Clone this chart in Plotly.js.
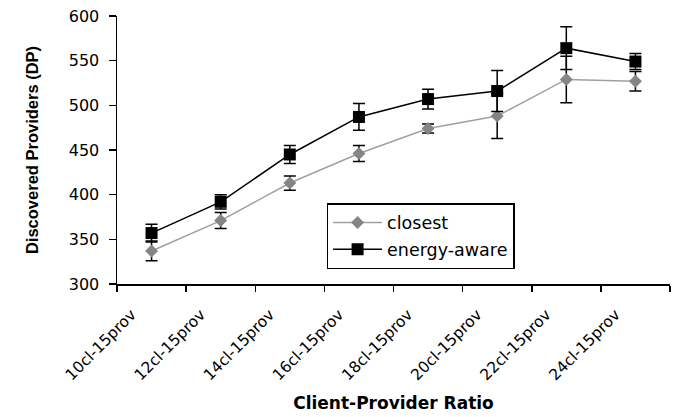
<!DOCTYPE html>
<html>
<head>
<meta charset="utf-8">
<script src="https://cdn.plot.ly/plotly-3.0.1.min.js"></script>
<style>html,body{margin:0;padding:0;background:#fff;}#chart{width:678px;height:417px;}</style>
</head>
<body>
<div id="chart"></div>
<script>
var categories = ["10cl-15prov","12cl-15prov","14cl-15prov","16cl-15prov","18cl-15prov","20cl-15prov","22cl-15prov","24cl-15prov"];
var closestValues = [337, 371, 413, 446, 474, 488, 529, 527];
var closestErrors = [11, 9, 8, 9, 5, 25, 26, 11];
var energyValues = [357, 392, 445, 487, 507, 516, 564, 549];
var energyErrors = [10, 8, 10, 15, 11, 23, 24, 9];
var seriesNames = ["closest", "energy-aware"];

var FONT = "DejaVu Sans, Arial, sans-serif";
var FONT2 = "Liberation Sans, Arial, sans-serif";

var traces = [
  {
    x: categories, y: closestValues, name: seriesNames[0], type: "scatter", mode: "lines+markers",
    legendgroup: "a",
    line: {color: "#a0a0a0", width: 1.5},
    marker: {symbol: "diamond", size: 10, color: "#858585"},
    error_y: {type: "data", array: closestErrors, visible: true, color: "#000000", thickness: 1.5, width: 6}
  },
  {
    x: categories, y: energyValues, name: seriesNames[1], type: "scatter", mode: "lines+markers",
    legendgroup: "b",
    line: {color: "#000000", width: 1.5},
    marker: {symbol: "square", size: 12, color: "#000000"},
    error_y: {type: "data", array: energyErrors, visible: true, color: "#000000", thickness: 1.5, width: 6}
  }
];

var layout = {
  width: 678, height: 417,
  margin: {l: 117, r: 8, t: 16, b: 133},
  paper_bgcolor: "#ffffff", plot_bgcolor: "#ffffff",
  font: {family: FONT, color: "#000000", size: 16},
  showlegend: true,
  legend: {
    x: 0.379, y: 0.302, xanchor: "left", yanchor: "top",
    bgcolor: "#ffffff", bordercolor: "#000000", borderwidth: 1.5,
    font: {family: FONT, size: 17.5, color: "#000000"},
    traceorder: "grouped", tracegroupgap: 1,
    itemwidth: 49
  },
  xaxis: {
    type: "category", range: [-0.5, 7.5],
    tickson: "boundaries", ticks: "outside", ticklen: 6, tickwidth: 1.5, tickcolor: "#000",
    showline: true, linecolor: "#000", linewidth: 1.5,
    showgrid: false, zeroline: false,
    tickangle: -45,
    ticklabelshift: -20, ticklabelstandoff: 14,
    tickfont: {family: FONT, size: 15.5, color: "#000"},
    title: {text: "<b>Client-Provider Ratio</b>", font: {family: FONT, size: 17, color: "#000"}, standoff: 14}
  },
  yaxis: {
    range: [300, 600], dtick: 50, tick0: 300,
    ticks: "outside", ticklen: 7, tickwidth: 1.5, tickcolor: "#000",
    showline: true, linecolor: "#000", linewidth: 1.5,
    showgrid: false, zeroline: false,
    ticklabelstandoff: 6,
    tickfont: {family: FONT, size: 16, color: "#000"},
    title: {text: "<b>Discovered Providers (DP)</b>", font: {family: FONT2, size: 16.5, color: "#000"}, standoff: 26}
  }
};

Plotly.newPlot("chart", traces, layout, {displayModeBar: false, staticPlot: true});
</script>
</body>
</html>
